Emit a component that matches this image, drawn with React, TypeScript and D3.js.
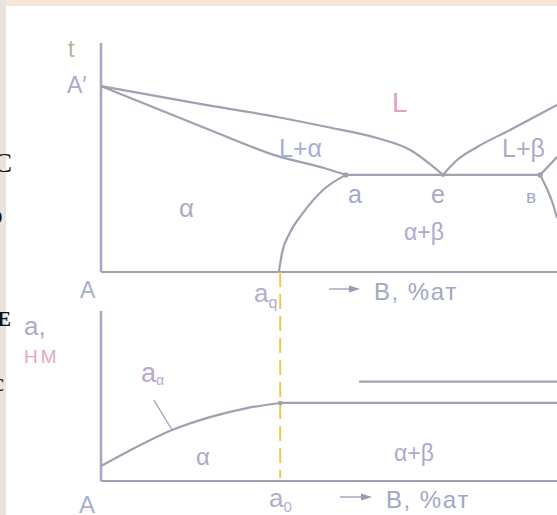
import React from "react";
import * as d3 from "d3";

const W = 557;
const H = 515;

// top diagram: composition (% B) vs temperature (relative units)
const liquidusA = [[0, 81.2], [21.7, 73.4], [38.6, 67.7], [49.6, 63.3], [60.5, 58.5], [67.8, 53.3], [75, 42.4]];
const solidusA = [[0, 81.2], [21.7, 63.8], [38.6, 50.7], [49.6, 45.0], [53.7, 42.4]];
const solvusA = [[39.0, 0], [39.7, 8.3], [41.4, 17.0], [44.3, 25.8], [48.7, 35.8], [53.7, 42.4]];
const liquidusB = [[75, 42.4], [78.1, 48.9], [82.5, 54.6], [89.7, 62.0], [100, 72.9]];
const solidusB = [[96.3, 42.4], [100, 50.2]];
const solvusB = [[96.3, 42.4], [98.0, 35.4], [99.1, 29.7], [100, 23.6]];
const eutectic = [[53.7, 42.4], [96.3, 42.4]];
const aQ = 39.3;

// bottom diagram: lattice parameter a (relative units)
const latticeAlpha = [[0, 8.8], [5.7, 17.1], [15.6, 30.0], [23.9, 37.6], [32.0, 42.9], [39.3, 45.9]];
const latticeFlat = [[39.3, 45.9], [100, 45.9]];
const latticeBeta = [[56.6, 58.5], [100, 58.5]];
const leader = [[11.6, 47.6], [15.6, 30.0]];

const LINE = "#a0a0b0";
const AXIS = "#a8a8c4";
const FONT = "'Liberation Sans', Arial, sans-serif";

function Arrow({ x0, x1, y }: { x0: number; x1: number; y: number }) {
  return (
    <g>
      <line x1={x0} x2={x1 - 10} y1={y} y2={y} stroke="#9a9ab4" strokeWidth={1.3} />
      <polygon points={`${x1 - 11},${y - 3.5} ${x1},${y} ${x1 - 11},${y + 3.5}`} fill="#9a9ab4" />
    </g>
  );
}

export default function App() {
  const x = d3.scaleLinear().domain([0, 100]).range([101, 557]);
  const t = d3.scaleLinear().domain([0, 100]).range([272, 43]);
  const p = d3.scaleLinear().domain([0, 100]).range([481, 311]);

  const lineT = d3
    .line<number[]>()
    .x((d) => x(d[0]))
    .y((d) => t(d[1]))
    .curve(d3.curveMonotoneX);
  const lineP = d3
    .line<number[]>()
    .x((d) => x(d[0]))
    .y((d) => p(d[1]))
    .curve(d3.curveMonotoneX);

  const txt = (s: string, px: number, py: number, size: number, fill: string, extra: any = {}) => (
    <text x={px} y={py} fontSize={size} fill={fill} fontFamily={FONT} {...extra}>
      {s}
    </text>
  );

  return (
    <svg width={W} height={H} style={{ position: "absolute", left: 0, top: 0 }}>
      <rect width={W} height={H} fill="#ffffff" />
      <rect width={W} height={6} fill="#f4e6da" />
      <rect width={6} height={H} fill="#ebe2db" />
      {/* clipped glyphs of the neighbouring page */}
      <g fontFamily="'Liberation Serif', serif" fill="#111">
        <text x={-6} y={172} fontSize={27}>C</text>
        <text x={-9} y={224} fontSize={27}>э</text>
        <text x={-3} y={326} fontSize={21} fontWeight={700}>E</text>
        <text x={-7} y={391} fontSize={25}>c</text>
      </g>

      {/* top diagram */}
      <line x1={x(0)} x2={x(0)} y1={t(100)} y2={t(0)} stroke={AXIS} strokeWidth={2.6} />
      <line x1={x(0)} x2={W + 5} y1={t(0)} y2={t(0)} stroke={LINE} strokeWidth={2.2} />
      <g fill="none" stroke={LINE} strokeWidth={2.2}>
        <path d={lineT(liquidusA) ?? ""} />
        <path d={lineT(solidusA) ?? ""} />
        <path d={lineT(solvusA) ?? ""} />
        <path d={lineT(liquidusB) ?? ""} />
        <path d={lineT(solidusB) ?? ""} />
        <path d={lineT(solvusB) ?? ""} />
        <path d={lineT(eutectic) ?? ""} />
      </g>
      <circle cx={x(eutectic[0][0])} cy={t(eutectic[0][1])} r={2.6} fill={LINE} />
      <circle cx={x(liquidusA[liquidusA.length - 1][0])} cy={t(eutectic[0][1])} r={2} fill={LINE} />
      <circle cx={x(eutectic[1][0])} cy={t(eutectic[1][1])} r={2.6} fill={LINE} />

      {/* bottom diagram */}
      <line x1={x(0)} x2={x(0)} y1={p(100)} y2={p(0)} stroke={AXIS} strokeWidth={2.6} />
      <line x1={x(0)} x2={W + 5} y1={p(0)} y2={p(0)} stroke={LINE} strokeWidth={2.2} />
      <g fill="none" stroke={LINE} strokeWidth={2.2}>
        <path d={lineP(latticeAlpha) ?? ""} />
        <path d={lineP(latticeFlat) ?? ""} />
        <path d={lineP(latticeBeta) ?? ""} />
      </g>
      <line
        x1={x(leader[0][0])}
        y1={p(leader[0][1])}
        x2={x(leader[1][0])}
        y2={p(leader[1][1])}
        stroke="#a8a0c0"
        strokeWidth={1.3}
      />
      <line
        x1={x(aQ)}
        x2={x(aQ)}
        y1={t(0)}
        y2={p(0) - 3}
        stroke="#f0c850"
        strokeWidth={2}
        strokeDasharray="15 7"
      />
      <circle cx={x(aQ)} cy={p(latticeFlat[0][1])} r={2.2} fill={LINE} />

      {/* labels, top */}
      {txt("t", 68, 57, 23, "#a4bc98")}
      {txt("A\u2032", 67, 93, 23, "#aea8d0")}
      {txt("L", 392, 112, 28, "#e0a2c0")}
      {txt("L+\u03b1", 279, 157, 25, "#a8aed8")}
      {txt("L+\u03b2", 502, 157, 25, "#acacca")}
      {txt("\u03b1", 179, 217, 26, "#a8acc4")}
      {txt("a", 348, 203, 25, "#9eaad0")}
      {txt("e", 431, 203, 25, "#a8a8c4")}
      {txt("\u0432", 526, 203, 19, "#a8a8c4")}
      {txt("\u03b1+\u03b2", 404, 240, 23, "#b0a8d0")}
      {txt("A", 80, 298, 23, "#a8b0cc")}
      <text x={254} y={302} fontSize={26} fill="#b4aecc" fontFamily={FONT}>
        a<tspan fontSize={16} dy={6}>q</tspan>
      </text>
      <Arrow x0={329} x1={360} y={289} />
      {txt("B,  %a\u0442", 374, 300, 24, "#a2a8c4", { letterSpacing: 1.5 })}

      {/* labels, bottom */}
      {txt("a,", 24, 335, 26, "#b0a8c8")}
      {txt("\u041d\u041c", 24, 363, 19, "#e8a6c0", { letterSpacing: 3 })}
      <text x={141} y={382} fontSize={27} fill="#b8a8d0" fontFamily={FONT}>
        a<tspan fontSize={14} dy={3}>{"\u03b1"}</tspan>
      </text>
      {txt("\u03b1", 196, 465, 24, "#a8acc4")}
      {txt("\u03b1+\u03b2", 394, 461, 23, "#b0a8d0")}
      {txt("A", 79, 513, 24, "#a8b0cc")}
      <text x={269} y={507} fontSize={26} fill="#b4aecc" fontFamily={FONT}>
        a<tspan fontSize={15} dy={5}>0</tspan>
      </text>
      <Arrow x0={340} x1={372} y={497} />
      {txt("B,  %a\u0442", 386, 508, 24, "#a2a8c4", { letterSpacing: 1.5 })}
    </svg>
  );
}
